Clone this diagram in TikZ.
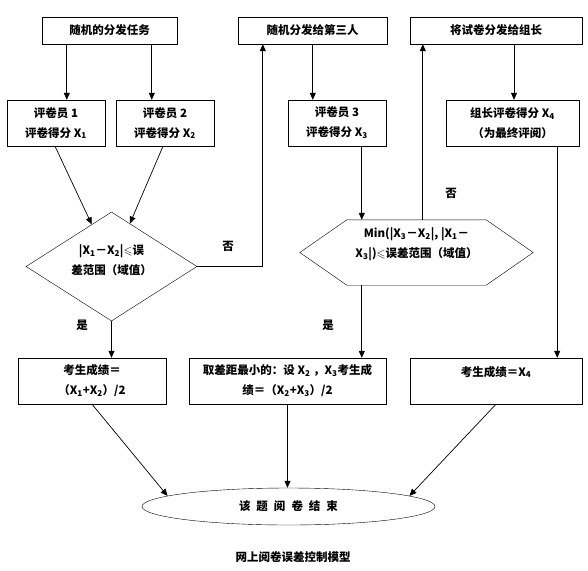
\documentclass[tikz,border=0pt]{standalone}
\usepackage{amssymb}
\usepackage{fontspec}
\setmainfont{Noto Sans CJK SC}
\usetikzlibrary{shapes.geometric,arrows.meta,calc}

\begin{document}
\begin{tikzpicture}[
    x=1pt, y=-1pt,
    font=\fontsize{11.5}{20}\selectfont\bfseries,
    task/.style = {rectangle, draw, minimum height=27pt, inner sep=0pt, align=center},
    score/.style = {rectangle, draw, minimum height=46pt, inner sep=0pt, align=center},
    decision/.style = {diamond, draw, aspect=1.57, minimum width=171pt, minimum height=109pt, inner sep=0pt, align=center},
    terminal/.style = {ellipse, draw, minimum width=293pt, minimum height=37pt, inner sep=0pt},
    note/.style = {inner sep=1pt},
    arrow/.style = {-{Triangle[length=7pt,width=6pt]}, line width=0.7pt}
]
    \useasboundingbox (0,0) rectangle (588,570);
    % top row
    \node[task, minimum width=135pt] (rand) at (109.5,30.5) {随机的分发任务};
    \node[task, minimum width=149pt] (third) at (312.5,30.5) {随机分发给第三人};
    \node[task, minimum width=172pt] (leader) at (496,30.5) {将试卷分发给组长};
    % markers
    \node[score, minimum width=98pt] (rater1) at (56,123) {评卷员 1\\评卷得分 X\textsubscript{1}};
    \node[score, minimum width=98pt] (rater2) at (165,123) {评卷员 2\\评卷得分 X\textsubscript{2}};
    \node[score, minimum width=98pt] (rater3) at (337,123) {评卷员 3\\评卷得分 X\textsubscript{3}};
    \node[score, minimum width=133pt] (final) at (512.5,123) {组长评卷得分 X\textsubscript{4}\\（为最终评阅）};
    % checks
    \node[decision] (check1) at (111.5,266.5) {|X\textsubscript{1}－X\textsubscript{2}|$\leqslant$误\\差范围（域值）\\[-6pt]\mbox{}};
    \node[minimum width=139pt, minimum height=65pt, inner sep=0pt, align=center] (check2) at (416.5,252.5)
        {Min(|X\textsubscript{3}－X\textsubscript{2}|, |X\textsubscript{1}－\\X\textsubscript{3}|)$\leqslant$误差范围（域值）\\\mbox{}};
    \draw (check2.north west) -- (check2.north east) -- ($(check2.east)+(47,0)$) -- (check2.south east)
        -- (check2.south west) -- ($(check2.west)+(-47,0)$) -- cycle;
    % results
    \node[score, minimum width=148pt] (res1) at (92,381) {考生成绩＝\\（X\textsubscript{1}+X\textsubscript{2}）/2};
    \node[score, minimum width=197pt] (res2) at (287.5,381) {取差距最小的：设 X\textsubscript{2} ，X\textsubscript{3}考生成\\绩＝（X\textsubscript{2}+X\textsubscript{3}）/2};
    \node[score, minimum width=172pt] (res3) at (496,381) {考生成绩＝X\textsubscript{4}\\\mbox{}};
    \node[terminal] (stop) at (288.5,506.5) {该\hspace{6pt}题\hspace{6pt}阅\hspace{6pt}卷\hspace{6pt}结\hspace{6pt}束};
    \node (title) at (293,557) {网上阅卷误差控制模型};
    % labels
    \node[note] (no1) at (228,246) {否};
    \node[note] (no2) at (451,193) {否};
    \node[note] (yes1) at (82,325) {是};
    \node[note] (yes2) at (328,325) {是};
    % connections
    \draw[arrow] ($(rand.south west)+(25,0)$) -- ($(rater1.north west)+(60,0)$);
    \draw[arrow] ($(rand.south west)+(110,0)$) -- ($(rater2.north west)+(36,0)$);
    \draw[arrow] ($(third.south west)+(75,0)$) -- ($(rater3.north west)+(25,0)$);
    \draw[arrow] ($(leader.south)+(18,0)$) -- ($(final.north)+(1.5,0)$);
    \draw[arrow] ($(rater1.south)+(-1,0)$) -- (check1);
    \draw[arrow] ($(rater2.south)+(-2,0)$) -- (check1);
    \draw[arrow] ($(rater3.south west)+(74,0)$) -- ($(check2.north west)+(15,0)$);
    \draw[arrow] (check1.east) -| ($(third.south west)+(25,0)$);
    \draw[arrow] ($(check2.north west)+(76,0)$) -- ($(leader.south west)+(13,0)$);
    \draw[arrow] (check1.south) -- (check1.south |- res1.north);
    \draw[arrow] ($(check2.south west)+(15,0)$) -- ($(res2.north west)+(173,0)$);
    \draw[arrow] ($(final.south east)+(-22,0)$) -- ($(res3.north east)+(-25,0)$);
    \draw[arrow] (res1.south) -- (stop.175);
    \draw[arrow] (res2.south) -- (res2.south |- stop.north);
    \draw[arrow] (res3.south) -- (stop.5);
\end{tikzpicture}
\end{document}
